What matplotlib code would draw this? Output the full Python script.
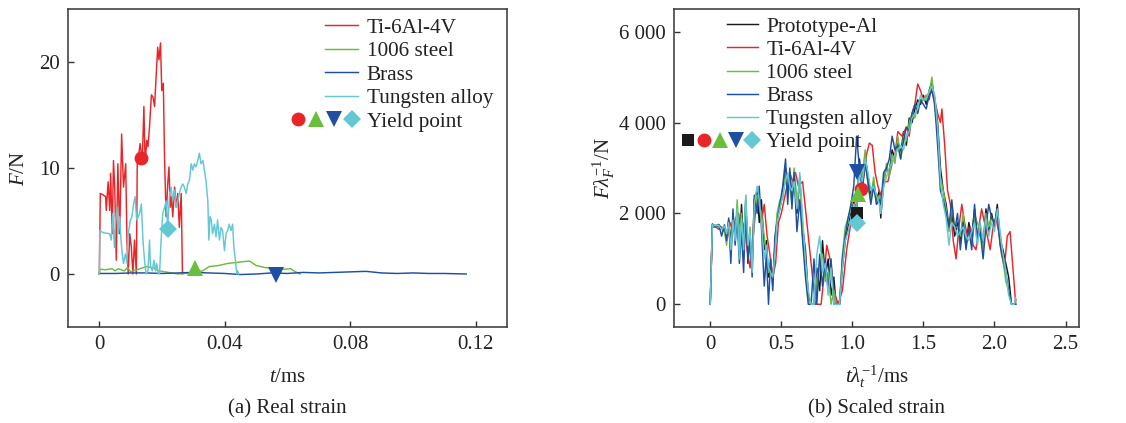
import matplotlib
matplotlib.use("Agg")
import matplotlib.pyplot as plt
from matplotlib.lines import Line2D
from matplotlib.legend_handler import HandlerBase

plt.rcParams['font.family'] = ['Liberation Serif', 'DejaVu Serif']
plt.rcParams['mathtext.fontset'] = 'custom'
plt.rcParams['mathtext.rm'] = 'Liberation Serif'
plt.rcParams['mathtext.it'] = 'Liberation Serif:italic'
plt.rcParams['font.size'] = 15

# ---------------- (a) Real strain ----------------
t_ti = [0, 0.0003, 0.0010, 0.0020, 0.0022, 0.0028, 0.0033, 0.0036, 0.0041, 0.0045,
        0.0049, 0.0054, 0.0059, 0.0065, 0.0071, 0.0077, 0.0084, 0.0088, 0.0092, 0.0097,
        0.0102, 0.0107, 0.0112, 0.0118, 0.0121, 0.0126, 0.0130, 0.0137, 0.0142, 0.0146,
        0.0151, 0.0155, 0.0160, 0.0166, 0.0171, 0.0176, 0.0181, 0.0186, 0.0190, 0.0195,
        0.0199, 0.0204, 0.0208, 0.0213, 0.0218, 0.0222, 0.0226, 0.0230, 0.0234, 0.0240,
        0.0245, 0.0250, 0.0255, 0.0261, 0.0265]
f_ti = [0, 7.6, 7.5, 7.3, 6.0, 8.7, 6.0, 9.5, 3.8, 10.7,
        8.2, 1.3, 10.4, 3.8, 13.2, 8.2, 10.4, 3.2, 0, 3.8,
        2.5, 0, 3.2, 0, 11.0, 11.4, 12.3, 10.7, 15.8, 10.4,
        12.6, 12.0, 13.9, 16.9, 16.7, 15.8, 18.6, 21.4, 20.2, 21.8,
        17.3, 18.0, 10.7, 5.4, 8.5, 10.1, 6.3, 7.3, 5.4, 8.2,
        6.3, 7.6, 4.4, 7.6, 0]

t_steel = [0, 0.0002, 0.002, 0.004, 0.005, 0.006, 0.008, 0.009, 0.010, 0.012,
           0.014, 0.015, 0.017, 0.019, 0.021, 0.023, 0.025, 0.027, 0.029, 0.031,
           0.033, 0.035, 0.038, 0.041, 0.044, 0.047, 0.048, 0.050, 0.053, 0.056,
           0.059, 0.061, 0.062, 0.064]
f_steel = [0, 0.45, 0.4, 0.5, 0.3, 0.5, 0.3, 0.6, 0.2, 0.4,
           0.6, 0.7, 0.6, 0.3, 0.2, 0.1, 0.0, 0.05, 0.1, 0.2,
           0.3, 0.7, 0.8, 1.0, 1.1, 1.2, 1.2, 0.8, 0.6, 0.5,
           0.45, 0.5, 0.3, 0.0]

t_brass = [0, 0.005, 0.010, 0.015, 0.020, 0.025, 0.030, 0.035, 0.040, 0.045,
           0.050, 0.055, 0.060, 0.065, 0.070, 0.075, 0.080, 0.085, 0.090, 0.095,
           0.100, 0.105, 0.110, 0.117]
f_brass = [0.05, 0.05, 0.1, 0.1, 0.05, 0.1, 0.15, 0.1, 0.05, -0.05,
           0.0, 0.1, 0.05, 0.15, 0.1, 0.15, 0.2, 0.25, 0.1, 0.05,
           0.1, 0.05, 0.05, 0.0]

t_w = [0, 0.0001, 0.0012, 0.0033, 0.0038, 0.0043, 0.0048, 0.0052, 0.0056, 0.0060,
       0.0065, 0.0069, 0.0073, 0.0077, 0.0083, 0.0088, 0.0092, 0.0099, 0.0104, 0.0109,
       0.0114, 0.0119, 0.0124, 0.0128, 0.0134, 0.0139, 0.0144, 0.0149, 0.0155, 0.0160,
       0.0163, 0.0169, 0.0174, 0.0179, 0.0183, 0.0188, 0.0192, 0.0197, 0.0202, 0.0208,
       0.0213, 0.0218, 0.0224, 0.0229, 0.0234, 0.0240, 0.0245, 0.0250, 0.0255, 0.0261,
       0.0266, 0.0271, 0.0277, 0.0282, 0.0287, 0.0293, 0.0298, 0.0303, 0.0308, 0.0314,
       0.0319, 0.0324, 0.0330, 0.0335, 0.0340, 0.0346, 0.0349, 0.0353, 0.0357, 0.0361,
       0.0367, 0.0372, 0.0377, 0.0383, 0.0388, 0.0393, 0.0399, 0.0404, 0.0409, 0.0414,
       0.0420, 0.0425, 0.0429, 0.0434, 0.0438, 0.0441, 0.0444]
f_w = [0, 4.1, 3.9, 3.8, 3.2, 5.7, 2.5, 5.1, 6.3, 3.8,
       5.4, 3.2, 1.9, 1.0, 1.9, 1.0, 3.8, 5.1, 5.4, 6.6,
       7.3, 5.1, 5.4, 5.7, 6.6, 3.2, 1.3, 0, 0.3, 3.2,
       0.7, 0.3, 1.3, 0.3, 1.0, 0, 0.1, 3.2, 5.7, 6.3,
       6.9, 4.4, 7.6, 8.2, 6.9, 7.9, 6.3, 6.9, 7.6, 8.2,
       8.5, 8.2, 7.6, 8.5, 8.8, 10.4, 9.8, 10.4, 10.1, 10.7,
       11.4, 10.4, 10.7, 9.8, 8.8, 6.9, 3.2, 5.4, 5.1, 3.8,
       4.7, 3.5, 5.1, 3.2, 4.4, 4.1, 2.2, 3.8, 4.1, 4.7,
       4.1, 4.7, 2.5, 1.3, 0, 0.3, 0]

# yield points (a): Ti-6Al-4V, 1006 steel, Brass, Tungsten alloy
yield_a_t = [0.0132, 0.0306, 0.0562, 0.0218]
yield_a_f = [10.9, 0.6, -0.1, 4.2]

# ---------------- (b) Scaled strain ----------------
ts = [0, 0.015, 0.04, 0.06, 0.08, 0.10, 0.115, 0.13, 0.145, 0.16,
      0.175, 0.19, 0.205, 0.22, 0.235, 0.25, 0.265, 0.28, 0.295,
      0.31, 0.33, 0.345, 0.36, 0.38, 0.395, 0.41, 0.425, 0.44, 0.455, 0.47, 0.49,
      0.51, 0.53, 0.545, 0.56, 0.575, 0.59, 0.61, 0.63, 0.65, 0.67, 0.69,
      0.71, 0.73, 0.75, 0.77, 0.79, 0.81, 0.83, 0.85, 0.87, 0.885,
      0.91, 0.93, 0.95, 0.97, 0.99, 1.01, 1.03, 1.05, 1.07, 1.09,
      1.11, 1.13, 1.15, 1.17, 1.19, 1.20, 1.22, 1.24, 1.26, 1.28,
      1.30, 1.32, 1.34, 1.36, 1.38, 1.40, 1.42, 1.44, 1.46, 1.48,
      1.50, 1.52, 1.54, 1.56, 1.58, 1.60, 1.62, 1.64, 1.66, 1.68,
      1.70, 1.72, 1.74, 1.76, 1.78, 1.80, 1.82, 1.84, 1.86, 1.88,
      1.90, 1.92, 1.94, 1.96, 1.98, 2.00, 2.02, 2.04, 2.06, 2.08,
      2.10, 2.12, 2.14, 2.15]

fs_al = [0, 1750, 1720, 1750, 1680, 1700, 1500, 1850, 1400, 1900, 1600, 2000, 1100, 2200, 1300, 2300, 900, 1500, 900,
         2300, 2500, 1800, 2300, 1200, 1400, 600, 900, 500, 1300, 1900, 2100,
         2500, 3000, 2500, 2900, 2300, 2800, 2000, 2800, 1700, 1200, 200,
         0, 0, 800, 300, 1400, 600, 1000, 200, 600, 0,
         0, 800, 1400, 1700, 2000, 2300, 2000, 3200, 2600, 3300,
         2800, 2400, 2700, 2300, 2500, 1900, 2700, 3000, 2900, 3400,
         3200, 3600, 3300, 3800, 3500, 4100, 4000, 4300, 4500, 4400,
         4600, 4400, 4700, 4900, 4500, 4000, 3000, 2500, 2200, 1700,
         2000, 1500, 1800, 1400, 1900, 1300, 1800, 1500, 2100, 1500,
         1700, 1300, 2100, 1600, 2000, 1700, 2200, 1400, 1200, 900,
         600, 0, 0, 100]

fs_steel = [0, 1700, 1750, 1700, 1650, 1600, 1300, 1800, 1100, 2000, 1500, 2300, 1300, 2000, 1000, 2400, 1200, 1700, 800,
            2000, 2400, 2200, 2000, 1500, 1100, 700, 1000, 400, 1200, 2000, 2300,
            2300, 2900, 2700, 2600, 2200, 3000, 2300, 2600, 1500, 800, 100,
            0, 0, 500, 900, 1100, 500, 700, 0, 300, 0,
            0, 1100, 1700, 1900, 2100, 2400, 2400, 3100, 2800, 3400,
            2600, 2300, 2800, 2200, 2400, 2000, 2600, 3100, 2800, 3300,
            3100, 3700, 3200, 3700, 3600, 4000, 4200, 4100, 4400, 4500,
            4500, 4600, 4600, 5000, 4300, 3800, 2800, 2500, 2100, 1600,
            2200, 1700, 1700, 1500, 2000, 1400, 1600, 1300, 1900, 1800,
            1600, 1200, 2000, 1700, 1900, 1800, 2000, 1500, 1000, 500,
            300, 0, 0, 100]

fs_brass = [0, 1770, 1700, 1760, 1500, 1750, 1400, 1900, 900, 2100, 1300, 1900, 900, 1600, 700, 2200, 1000, 1400, 600,
            2400, 2000, 2600, 1700, 400, 1100, 0, 1000, 300, 1500, 1800, 2200,
            2600, 3200, 2200, 3000, 2100, 2900, 1600, 2300, 1400, 600, 0,
            0, 1000, 0, 1100, 400, 1000, 300, 1000, 0, 0,
            0, 1000, 1500, 1900, 2200, 2600, 3700, 3000, 2500, 3100,
            2700, 2200, 2600, 2200, 2300, 2200, 2900, 3000, 3200, 3700,
            3400, 3500, 3200, 3600, 3900, 3800, 4200, 4400, 4200, 4500,
            4400, 4300, 4600, 4700, 4400, 3500, 2500, 2300, 2000, 1700,
            2300, 1600, 2000, 1200, 1800, 1200, 1700, 1200, 2200, 1400,
            1600, 1000, 1700, 2200, 1900, 1800, 2000, 1300, 1000, 700,
            300, 0, 0, 0]

fs_w = [0, 1750, 1730, 1740, 1650, 1720, 1550, 1800, 1200, 1850, 1400, 2100, 1000, 1900, 1200, 2400, 1300, 1600, 700,
        2200, 2600, 2300, 1800, 1000, 1300, 800, 700, 600, 1100, 1800, 2100,
        2400, 2700, 2900, 2600, 2500, 2700, 2100, 2900, 1900, 1000, 300,
        0, 0, 1100, 1500, 700, 900, 200, 800, 0, 0,
        0, 800, 1400, 1600, 1900, 2200, 2100, 2900, 2700, 3200,
        2900, 2500, 2600, 2400, 2200, 2000, 2600, 2800, 3000, 3100,
        3300, 3400, 3500, 3400, 3700, 3800, 4100, 4200, 4300, 4600,
        4500, 4500, 4700, 4800, 4600, 3900, 2700, 2200, 1900, 1300,
        1800, 1700, 1500, 1600, 1700, 1500, 1400, 1600, 1800, 1300,
        1800, 1400, 1900, 1500, 1800, 1600, 2100, 1600, 1100, 700,
        200, 0, 0, 150]

ts_ti = [0, 0.015, 0.04, 0.06, 0.08, 0.10, 0.12, 0.14, 0.16, 0.18,
         0.20, 0.22, 0.24, 0.26, 0.28, 0.30, 0.32, 0.34, 0.36, 0.38,
         0.40, 0.42, 0.44, 0.46, 0.48, 0.50, 0.52, 0.54, 0.56, 0.58,
         0.60, 0.62, 0.65, 0.68, 0.72, 0.74, 0.78, 0.80, 0.82, 0.85,
         0.87, 0.90, 0.93, 0.96, 0.99, 1.02, 1.06, 1.08, 1.10, 1.12,
         1.14, 1.16, 1.18, 1.20, 1.23, 1.25, 1.28, 1.30, 1.32, 1.35,
         1.38, 1.40, 1.42, 1.44, 1.46, 1.48, 1.50, 1.52, 1.54, 1.56,
         1.58, 1.60, 1.62, 1.63, 1.65, 1.67, 1.69, 1.71, 1.73, 1.75,
         1.77, 1.79, 1.81, 1.83, 1.85, 1.87, 1.89, 1.91, 1.93, 1.95,
         1.97, 1.99, 2.01, 2.03, 2.05, 2.07, 2.09, 2.11, 2.13, 2.15]
fs_ti = [0, 1700, 1700, 1650, 1700, 1600, 1450, 1800, 1600, 1900,
         2000, 1500, 1800, 1200, 800, 1400, 2100, 2400, 1800, 2200,
         1500, 1100, 600, 900, 1800, 2000, 2300, 2600, 2900, 2700,
         2900, 2600, 2700, 1800, 600, 0, 0, 600, 1300, 900,
         300, 0, 300, 1200, 1800, 2300, 2500, 2800, 3300, 3550,
         3500, 2900, 2600, 2400, 2700, 2700, 3100, 3300, 3800, 3700,
         3900, 3700, 4200, 4400, 4850, 4700, 4500, 4600, 4500, 4800,
         4500, 4200, 4000, 4300, 3500, 2500, 2200, 1400, 1000, 1700,
         2200, 1800, 1500, 1700, 1300, 1200, 1700, 2100, 1800, 1500,
         1200, 1700, 1900, 1600, 1100, 800, 1500, 1600, 800, 0]

# yield points (b): Prototype-Al, Ti-6Al-4V, 1006 steel, Brass, Tungsten alloy
yield_b_t = [1.033, 1.064, 1.040, 1.033, 1.033]
yield_b_f = [2000, 2530, 2420, 2920, 1780]

names_a = ['Ti-6Al-4V', '1006 steel', 'Brass', 'Tungsten alloy']
names_b = ['Prototype-Al', 'Ti-6Al-4V', '1006 steel', 'Brass', 'Tungsten alloy']

C_AL = '#1a1a1a'
C_TI = '#e8262a'
C_ST = '#6bbd3c'
C_BR = '#1f4fa3'
C_W = '#64c7d4'
MK = {'Prototype-Al': ('s', C_AL, 9), 'Ti-6Al-4V': ('o', C_TI, 10),
      '1006 steel': ('^', C_ST, 11), 'Brass': ('v', C_BR, 11),
      'Tungsten alloy': ('D', C_W, 9)}


class YieldHandle:
    def __init__(self, keys, step):
        self.keys = keys
        self.step = step


class HandlerYield(HandlerBase):
    def create_artists(self, legend, orig_handle, xdescent, ydescent,
                       width, height, fontsize, trans):
        arts = []
        n = len(orig_handle.keys)
        xr = width - xdescent - 0.28 * fontsize
        y = height / 2 - ydescent
        for i, k in enumerate(orig_handle.keys):
            m, c, s = MK[k]
            x = xr - (n - 1 - i) * orig_handle.step * fontsize
            ln = Line2D([x], [y], marker=m, color=c, markersize=s,
                        linestyle='none', markeredgewidth=0)
            ln.set_transform(trans)
            arts.append(ln)
        return arts


fig = plt.figure(figsize=(11.26, 4.23), dpi=100)
axa = fig.add_axes([68 / 1126, 1 - 327 / 423, 439 / 1126, 318 / 423])
axb = fig.add_axes([674 / 1126, 1 - 327 / 423, 405 / 1126, 318 / 423])

lw = 1.05
la = []
la += axa.plot(t_ti, f_ti, color=C_TI, lw=lw)
la += axa.plot(t_steel, f_steel, color=C_ST, lw=lw)
la += axa.plot(t_brass, f_brass, color=C_BR, lw=lw)
la += axa.plot(t_w, f_w, color=C_W, lw=lw)
for name, xv, yv in zip(names_a, yield_a_t, yield_a_f):
    m, c, s = MK[name]
    axa.plot([xv], [yv], marker=m, color=c, markersize=s, linestyle='none',
             markeredgewidth=0, zorder=5)

lb = []
lb += axb.plot(ts, fs_al, color=C_AL, lw=lw)
lb += axb.plot(ts_ti, fs_ti, color=C_TI, lw=lw)
lb += axb.plot(ts, fs_steel, color=C_ST, lw=lw)
lb += axb.plot(ts, fs_brass, color=C_BR, lw=lw)
lb += axb.plot(ts, fs_w, color=C_W, lw=lw)
for name, xv, yv in zip(names_b, yield_b_t, yield_b_f):
    m, c, s = MK[name]
    axb.plot([xv], [yv], marker=m, color=c, markersize=s, linestyle='none',
             markeredgewidth=0, zorder=5)

axa.set_xlim(-0.01, 0.13)
axa.set_ylim(-5, 25)
axa.set_xticks([0, 0.04, 0.08, 0.12])
axa.set_xticklabels(['0', '0.04', '0.08', '0.12'])
axa.set_yticks([0, 10, 20])
axa.set_yticklabels(['0', '10', '20'])

axb.set_xlim(-0.255, 2.595)
axb.set_ylim(-500, 6500)
axb.set_xticks([0, 0.5, 1.0, 1.5, 2.0, 2.5])
axb.set_xticklabels(['0', '0.5', '1.0', '1.5', '2.0', '2.5'])
axb.set_yticks([0, 2000, 4000, 6000])
axb.set_yticklabels(['0', '2 000', '4 000', '6 000'])

for ax in (axa, axb):
    ax.tick_params(direction='in', length=4, width=1, labelsize=15,
                   colors='#333333', labelcolor='#222222', pad=6)
    for sp in ax.spines.values():
        sp.set_color('#444444')
        sp.set_linewidth(1.2)

axa.set_xlabel(r'$t$/ms', fontsize=15, color='#222222')
axa.xaxis.set_label_coords(0.5, -(377 - 327) / 318)
axa.xaxis.label.set_va('center')
axa.set_ylabel(r'$F$/N', fontsize=15, color='#222222')
axa.yaxis.set_label_coords((20 - 68) / 439, 0.5)
axa.yaxis.label.set_va('center')

axb.set_xlabel(r'$t\lambda_t^{-1}$/ms', fontsize=15, color='#222222')
axb.xaxis.set_label_coords(0.5, -(377 - 327) / 318)
axb.xaxis.label.set_va('center')
axb.set_ylabel(r'$F\lambda_F^{-1}$/N', fontsize=15, color='#222222')
axb.yaxis.set_label_coords((604 - 674) / 405, 0.5)
axb.yaxis.label.set_va('center')

fig.text(287 / 1126, 1 - 409 / 423, '(a) Real strain', ha='center', va='center',
         fontsize=15, color='#222222')
fig.text(877 / 1126, 1 - 409 / 423, '(b) Scaled strain', ha='center', va='center',
         fontsize=15, color='#222222')

fs_leg = 15.3
leg_a = axa.legend(la + [YieldHandle(names_a, 0.85)], names_a + ['Yield point'],
                   handler_map={YieldHandle: HandlerYield()},
                   loc='upper left', bbox_to_anchor=((325 - 68) / 439, 1 - (18 - 9) / 318),
                   frameon=False, fontsize=fs_leg, handlelength=1.55, handletextpad=0.42,
                   labelspacing=0.17, borderpad=0, borderaxespad=0)
for t in leg_a.get_texts():
    t.set_color('#222222')

leg_b = axb.legend(lb + [YieldHandle(names_b, 0.75)], names_b + ['Yield point'],
                   handler_map={YieldHandle: HandlerYield()},
                   loc='upper left', bbox_to_anchor=((727 - 674) / 405, 1 - (17 - 9) / 318),
                   frameon=False, fontsize=fs_leg, handlelength=1.46, handletextpad=0.38,
                   labelspacing=0.15, borderpad=0, borderaxespad=0)
for t in leg_b.get_texts():
    t.set_color('#222222')

fig.savefig('out.png', dpi=100)
